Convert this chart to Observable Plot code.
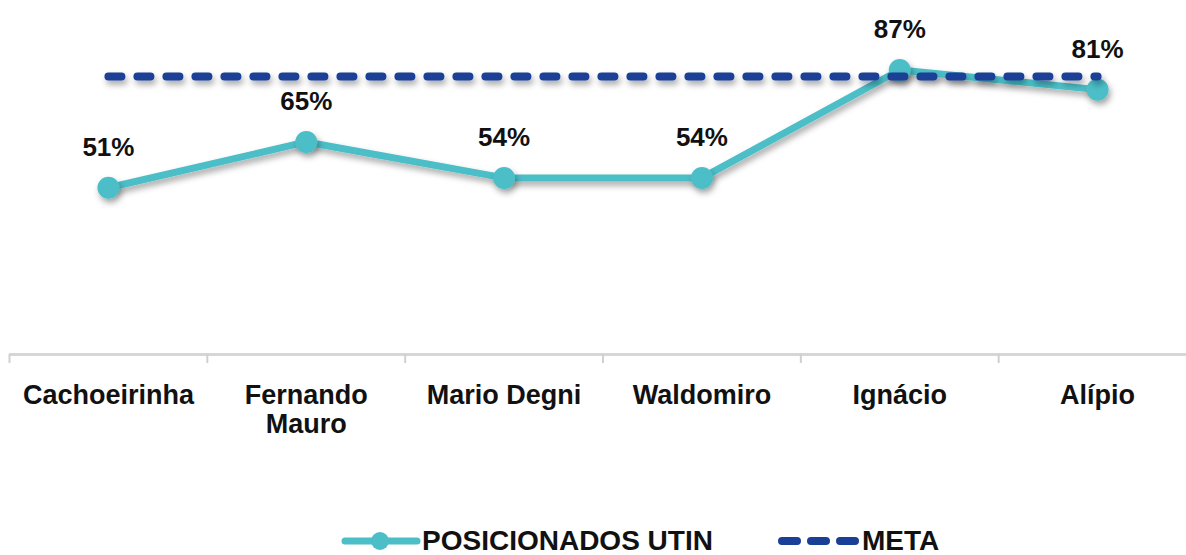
<!DOCTYPE html>
<html>
<head>
<meta charset="utf-8">
<script src="https://cdn.jsdelivr.net/npm/d3@7"></script>
<script src="https://cdn.jsdelivr.net/npm/@observablehq/plot@0.6"></script>
<style>
  html, body { margin: 0; padding: 0; background: #fff; }
  body { width: 1186px; height: 555px; overflow: hidden; font-family: "Liberation Sans", Arial, sans-serif; }
  #legend { position: relative; height: 45px; font-weight: bold; font-size: 28px; color: #111; }
  .item { position: absolute; top: 0; display: flex; align-items: center; height: 45px; }
  .item svg { display: block; }
</style>
</head>
<body>
<div id="chart"></div>
<div id="legend"></div>
<script>
// ---- data ----
const categories = ["Cachoeirinha", "Fernando Mauro", "Mario Degni", "Waldomiro", "Ignácio", "Alípio"];
const tickLabels = ["Cachoeirinha", "Fernando\nMauro", "Mario Degni", "Waldomiro", "Ignácio", "Alípio"];
const posicionados = [51, 65, 54, 54, 87, 81];
const meta = [85, 85, 85, 85, 85, 85];
const seriesNames = ["POSICIONADOS UTIN", "META"];

// ---- styles ----
const TEAL = "#4bbec7";
const NAVY = "#1a3f96";

const idx = categories.map((_, i) => i);
const bounds = categories.map((_, i) => i - 0.5);
const rows = categories.map((c, i) => ({i, cat: c, pos: posicionados[i], meta: meta[i]}));

const plot = Plot.plot({
  width: 1186,
  height: 518,
  marginLeft: 9,
  marginRight: -10,
  marginTop: 27,
  marginBottom: 164,
  style: {fontFamily: "'Liberation Sans', Arial, sans-serif", background: "transparent", overflow: "visible"},
  x: {type: "linear", domain: [-0.5, categories.length - 0.5], axis: null},
  y: {domain: [0, 100], axis: null},
  marks: [
    Plot.ruleY([0], {stroke: "#d6d6d6", strokeWidth: 3}),
    Plot.axisX({ticks: bounds, tickFormat: () => "", tickSize: 9, stroke: "#d0d0d0", strokeWidth: 2, label: null}),
    Plot.axisX({ticks: idx, tickFormat: i => tickLabels[i], tickSize: 0, tickPadding: 29,
      fontSize: 27, fontWeight: "bold", lineHeight: 1.08, fill: "#111", label: null}),
    Plot.line(rows, {x: "i", y: "pos", stroke: TEAL, strokeWidth: 7, strokeLinejoin: "round"}),
    Plot.dot(rows, {x: "i", y: "pos", r: 11, fill: TEAL}),
    Plot.line(rows, {x: "i", y: "meta", stroke: NAVY, strokeWidth: 8, strokeDasharray: "13,16", strokeLinecap: "round"}),
    Plot.text(rows, {x: "i", y: "pos", text: d => d.pos + "%", dy: -40, fontSize: 26, fontWeight: "bold", fill: "#111"})
  ]
});

// drop shadow
const ns = "http://www.w3.org/2000/svg";
const defs = document.createElementNS(ns, "defs");
defs.innerHTML = `<filter id="sh" filterUnits="userSpaceOnUse" x="0" y="0" width="1200" height="560">
  <feDropShadow dx="2" dy="4" stdDeviation="3" flood-color="#000" flood-opacity="0.35"/></filter>`;
plot.insertBefore(defs, plot.firstChild);
plot.querySelectorAll('g[aria-label="line"], g[aria-label="dot"]').forEach(g => g.setAttribute("filter", "url(#sh)"));

document.getElementById("chart").appendChild(plot);

// legend
const legend = document.getElementById("legend");
legend.innerHTML = `
  <div class="item" style="left:341px">
    <svg width="80" height="24"><line x1="4" y1="12" x2="76" y2="12" stroke="${TEAL}" stroke-width="7" stroke-linecap="round"/><circle cx="39" cy="12" r="9" fill="${TEAL}"/></svg>
    <span style="margin-left:1px">${seriesNames[0]}</span>
  </div>
  <div class="item" style="left:774px">
    <svg width="86" height="24"><line x1="8" y1="12" x2="82" y2="12" stroke="${NAVY}" stroke-width="8" stroke-dasharray="15,14" stroke-linecap="round"/></svg>
    <span style="margin-left:2px">${seriesNames[1]}</span>
  </div>`;
</script>
</body>
</html>
